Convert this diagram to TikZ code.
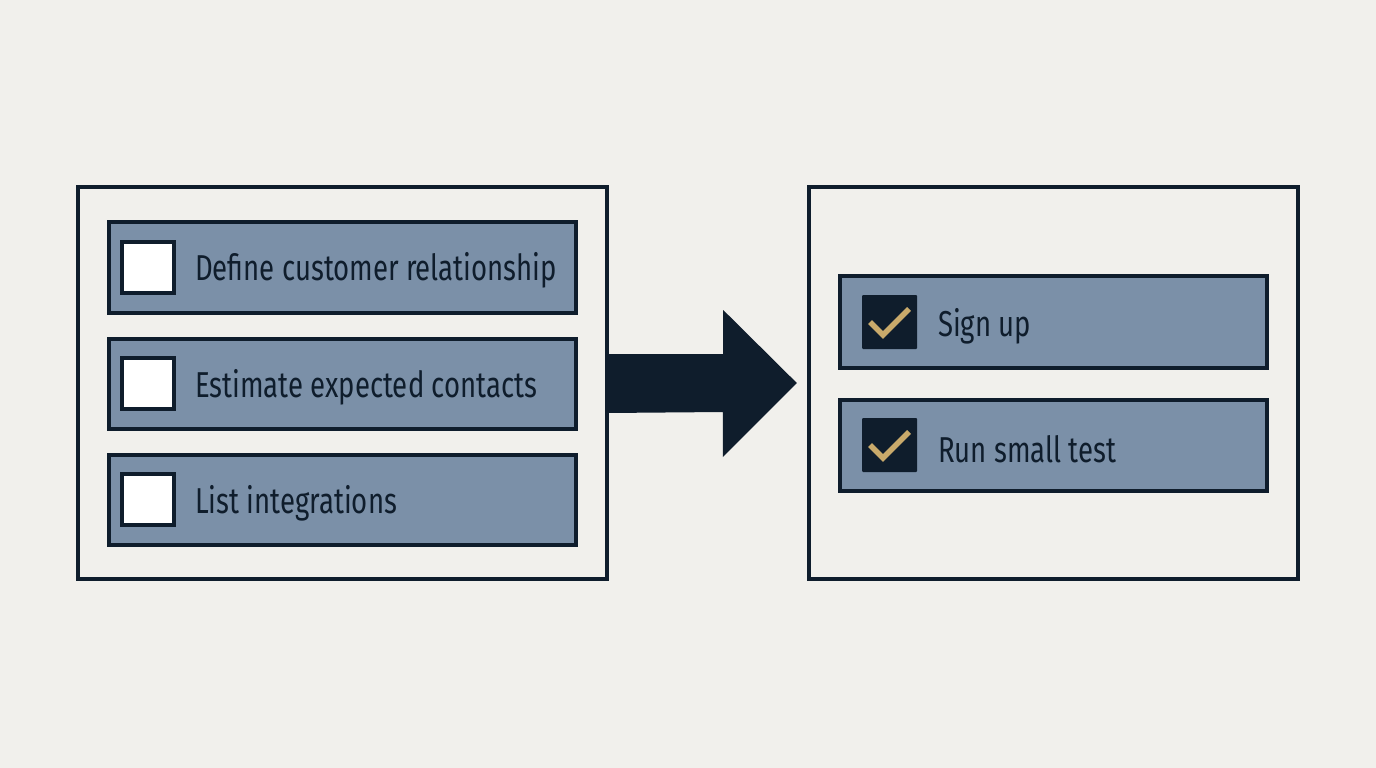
\documentclass[tikz,border=0pt]{standalone}
\usepackage{fontspec}
\setmainfont{Fira Sans}[FakeStretch=0.765]
\definecolor{bg}{HTML}{F1F0EC}
\definecolor{navy}{HTML}{0F1D2C}
\definecolor{itemfill}{HTML}{7B90A8}
\definecolor{gold}{HTML}{C9AA6B}
\begin{document}
\begin{tikzpicture}[x=1pt,y=-1pt,
  panel/.style={draw=navy,line width=3.4pt,fill=bg},
  item/.style={draw=navy,line width=3.4pt,fill=itemfill},
  emptybox/.style={draw=navy,line width=3.4pt,fill=white},
  donebox/.style={fill=navy,rounded corners=1pt},
  lbl/.style={anchor=west,text=navy,font=\fontsize{36}{42}\selectfont,inner sep=0pt},
  tick/.style={draw=gold,line width=5.5pt}]
\fill[bg] (0,0) rectangle (1376,768);
\useasboundingbox (0,0) rectangle (1376,768);
% panels
\draw[panel] (78,187) rectangle (607,579);
\node (L) at (342.5,383) [minimum width=529pt,minimum height=392pt,inner sep=0pt] {};
\draw[panel] (809,187) rectangle (1298,579);
\node (R) at (1053.5,383) [minimum width=489pt,minimum height=392pt,inner sep=0pt] {};
% left items
\draw[item] (109,222) rectangle (576,313);
\draw[emptybox] (122,242) rectangle (174,293);
\node[lbl] (t1) at (195,270) {Define customer relationship};
\draw[item] (109,339) rectangle (576,429);
\draw[emptybox] (122,358) rectangle (174,409);
\node[lbl] (t2) at (195,387) {Estimate expected contacts};
\draw[item] (109,455) rectangle (576,545);
\draw[emptybox] (122,474) rectangle (174,525);
\node[lbl] (t3) at (195,503) {List integrations};
% right items
\draw[item] (840,276) rectangle (1267,368);
\fill[donebox] (862,295) rectangle (917,349);
\draw[tick] (870,322) -- (883,335) -- (909,309);
\node[lbl] (t4) at (938,326) {Sign up};
\draw[item] (840,400) rectangle (1267,491);
\fill[donebox] (862,418) rectangle (917,472);
\draw[tick] (870,445) -- (883,458) -- (909,432);
\node[lbl] (t5) at (938,449) {Run small test};
% arrow
\fill[navy] ([yshift=29pt]L.east) -- ++(116,0) -- ++(0,-44) -- ([xshift=-12pt]R.west) -- ++(-74,74) -- ++(0,-45) -- ([yshift=-30pt]L.east) -- cycle;
\end{tikzpicture}
\end{document}
